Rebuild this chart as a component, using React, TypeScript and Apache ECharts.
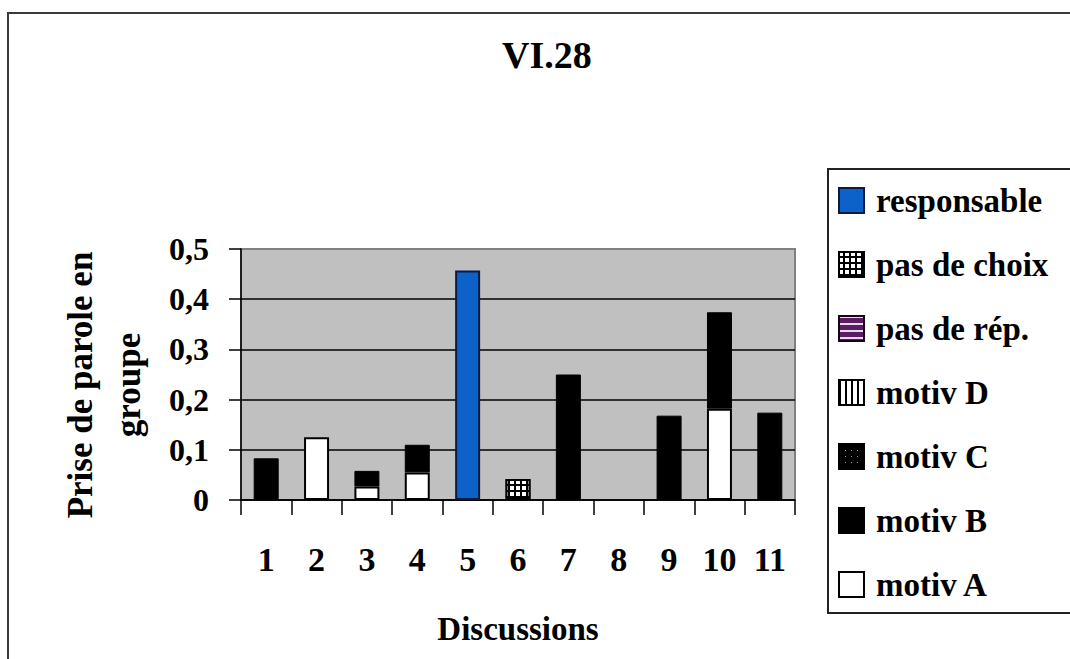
import React, { useEffect, useRef } from "react";
import * as echarts from "echarts";

const categories = ["1", "2", "3", "4", "5", "6", "7", "8", "9", "10", "11"];
const yTickLabels = ["0", "0,1", "0,2", "0,3", "0,4", "0,5"];
const motivA = [0, 0.125, 0.027, 0.055, 0, 0, 0, 0, 0, 0.182, 0];
const motivB = [0.083, 0, 0.031, 0.055, 0, 0, 0.25, 0, 0.168, 0.192, 0.174];
const motivC = [0, 0, 0, 0, 0, 0, 0, 0, 0, 0, 0];
const motivD = [0, 0, 0, 0, 0, 0, 0, 0, 0, 0, 0];
const pasDeRep = [0, 0, 0, 0, 0, 0, 0, 0, 0, 0, 0];
const pasDeChoix = [0, 0, 0, 0, 0, 0.042, 0, 0, 0, 0, 0];
const responsable = [0, 0, 0, 0, 0.457, 0, 0, 0, 0, 0, 0];

const legendOrder = ["responsable", "pas de choix", "pas de rép.", "motiv D", "motiv C", "motiv B", "motiv A"];

const FONT = "'Liberation Serif', 'Times New Roman', serif";

export default function App() {
  const ref = useRef<HTMLDivElement>(null);
  useEffect(() => {
    if (!ref.current) return;
    const chart = echarts.init(ref.current, null, { renderer: "svg" });
    const nz = (arr: number[]) => arr.map((v) => (v ? v : null));
    const mk = (name: string, data: number[], itemStyle: any) => ({
      name,
      type: "bar",
      stack: "total",
      barWidth: 25,
      data: nz(data),
      itemStyle,
    });
    const series = [
      mk("motiv A", motivA, { color: "#ffffff", borderColor: "#000", borderWidth: 2 }),
      mk("motiv B", motivB, { color: "#000000", borderColor: "#000", borderWidth: 1 }),
      mk("motiv C", motivC, {
        color: "#000000",
        borderColor: "#000",
        borderWidth: 1,
        decal: { symbol: "rect", symbolSize: 1, color: "#9a9a9a", dashArrayX: [1, 5], dashArrayY: [1, 5] },
      }),
      mk("motiv D", motivD, {
        color: "#ffffff",
        borderColor: "#000",
        borderWidth: 2,
        decal: { symbol: "rect", symbolSize: 1, color: "#000", dashArrayX: [2, 4], dashArrayY: [1, 0] },
      }),
      mk("pas de rép.", pasDeRep, {
        color: "#5a1d62",
        borderColor: "#1a001a",
        borderWidth: 1,
        decal: { symbol: "rect", symbolSize: 1, color: "#e8d8ee", dashArrayX: [1, 0], dashArrayY: [1.5, 5] },
      }),
      mk("pas de choix", pasDeChoix, {
        color: "#000000",
        borderColor: "#000",
        borderWidth: 2,
        decal: { symbol: "rect", symbolSize: 1, color: "#ffffff", dashArrayX: [4, 1.5], dashArrayY: [4, 1.5] },
      }),
      mk("responsable", responsable, { color: "#0d62c9", borderColor: "#0a1a40", borderWidth: 2 }),
    ];
    chart.setOption({
      animation: false,
      backgroundColor: "#ffffff",
      title: {
        text: "VI.28",
        left: 502,
        top: 36,
        padding: 0,
        textStyle: { fontFamily: FONT, fontSize: 38, fontWeight: "bold", color: "#000" },
      },
      legend: {
        orient: "vertical",
        left: 838,
        top: 184,
        padding: 0,
        icon: "rect",
        itemWidth: 25,
        itemHeight: 25,
        itemGap: 31,
        data: legendOrder,
        textStyle: {
          fontFamily: FONT,
          fontSize: 33,
          fontWeight: "bold",
          color: "#000",
          lineHeight: 32,
          padding: [0, 0, 0, 7],
        },
      },
      grid: {
        left: 241,
        right: 275,
        top: 249,
        bottom: 159,
        show: true,
        backgroundColor: "#c0c0c0",
        borderColor: "#808080",
        borderWidth: 2,
      },
      xAxis: {
        type: "category",
        data: categories,
        name: "Discussions",
        nameLocation: "middle",
        nameGap: 112,
        nameTextStyle: { fontFamily: FONT, fontSize: 33, fontWeight: "bold", color: "#000" },
        axisLine: { lineStyle: { color: "#000", width: 1.5 } },
        axisTick: { show: true, length: 15, lineStyle: { color: "#000", width: 1.5 } },
        axisLabel: { margin: 42, fontFamily: FONT, fontSize: 34, fontWeight: "bold", color: "#000" },
      },
      yAxis: {
        type: "value",
        min: 0,
        max: 0.5,
        interval: 0.1,
        axisLine: { show: true, lineStyle: { color: "#000", width: 1.5 } },
        axisTick: { show: true, length: 12, lineStyle: { color: "#000", width: 1.5 } },
        axisLabel: {
          margin: 32,
          fontFamily: FONT,
          fontSize: 32,
          fontWeight: "bold",
          color: "#000",
          formatter: (_v: number, i: number) => yTickLabels[i],
        },
        splitLine: {
          show: true,
          lineStyle: { color: ["#000", "#000", "#000", "#000", "#000", "#808080"], width: 1.5 },
        },
      },
      graphic: [
        {
          type: "rect",
          shape: { x: 8, y: 13, width: 1200, height: 800 },
          style: { fill: "none", stroke: "#3a3a3a", lineWidth: 2 },
          silent: true,
        },
        {
          type: "rect",
          shape: { x: 828, y: 169, width: 400, height: 444 },
          style: { fill: "none", stroke: "#222", lineWidth: 2 },
          silent: true,
        },
        {
          type: "text",
          x: 104,
          y: 385,
          rotation: Math.PI / 2,
          style: {
            text: "Prise de parole en\ngroupe",
            align: "center",
            verticalAlign: "middle",
            fontFamily: FONT,
            fontSize: 35,
            fontWeight: "bold",
            lineHeight: 48,
            fill: "#000",
          },
        },
      ],
      series,
    });
    return () => chart.dispose();
  }, []);
  return <div ref={ref} style={{ position: "fixed", left: 0, top: 0, width: 1070, height: 659 }} />;
}
